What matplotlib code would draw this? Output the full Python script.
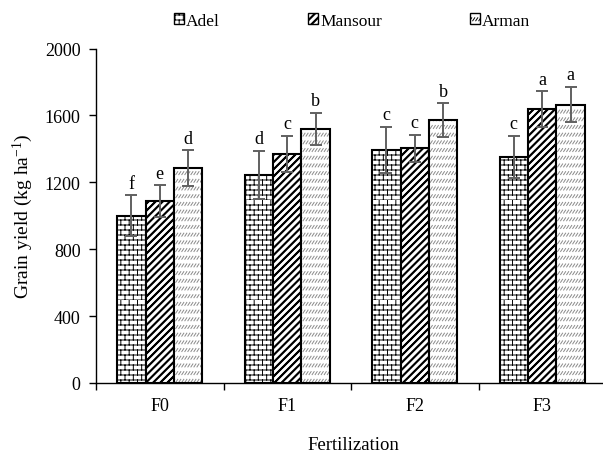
import warnings
import numpy as np
import matplotlib
matplotlib.use('Agg')
import matplotlib.pyplot as plt
from matplotlib import hatch as mhatch
from matplotlib.path import Path
from matplotlib.patches import Patch

warnings.filterwarnings('ignore')

fert = ['F0', 'F1', 'F2', 'F3']
cultivars = ['Adel', 'Mansour', 'Arman']

adel = [1000, 1244, 1393, 1351]
mansour = [1088, 1369, 1403, 1638]
arman = [1285, 1519, 1572, 1664]

adel_err = [122, 145, 138, 126]
mansour_err = [96, 108, 80, 108]
arman_err = [106, 97, 100, 106]

adel_let = ['f', 'd', 'c', 'c']
mansour_let = ['e', 'c', 'c', 'a']
arman_let = ['d', 'b', 'b', 'a']

yticks = [0, 400, 800, 1200, 1600, 2000]


# custom hatches (brick, thick slash, short grey dashes)
class BrickHatch(mhatch.HatchPatternBase):
    def __init__(self, hatch, density):
        self.rows = 20 if 'B' in hatch else 0
        self.cols = 12
        self.num_vertices = self.rows * (2 + 2 * self.cols)

    def set_vertices_and_codes(self, vertices, codes):
        i = 0
        for r in range(self.rows):
            y0 = r / self.rows
            y1 = (r + 1) / self.rows
            vertices[i] = (0, y0)
            vertices[i + 1] = (1, y0)
            codes[i] = Path.MOVETO
            codes[i + 1] = Path.LINETO
            i += 2
            off = 0 if r % 2 == 0 else 0.5 / self.cols
            for c in range(self.cols):
                x = c / self.cols + off
                vertices[i] = (x, y0)
                vertices[i + 1] = (x, y1)
                codes[i] = Path.MOVETO
                codes[i + 1] = Path.LINETO
                i += 2


class ThickSlash(mhatch.HatchPatternBase):
    def __init__(self, hatch, density):
        self.n = 14 if 'M' in hatch else 0
        self.offsets = [-0.008, 0, 0.008]
        self.num_vertices = (2 * self.n + 1) * len(self.offsets) * 2 if self.n else 0

    def set_vertices_and_codes(self, vertices, codes):
        i = 0
        for k in range(-self.n, self.n + 1):
            s = k / self.n
            for d in self.offsets:
                vertices[i] = (s + d, 0)
                vertices[i + 1] = (s + d + 1, 1)
                codes[i] = Path.MOVETO
                codes[i + 1] = Path.LINETO
                i += 2


class DashHatch(mhatch.HatchPatternBase):
    def __init__(self, hatch, density):
        self.rows = 13 if 'D' in hatch else 0
        self.cols = 33
        self.num_vertices = self.rows * self.cols * 2

    def set_vertices_and_codes(self, vertices, codes):
        i = 0
        for r in range(self.rows):
            y0 = (r + 0.3) / self.rows
            for c in range(self.cols):
                x0 = c / self.cols
                vertices[i] = (x0, y0)
                vertices[i + 1] = (x0 + 0.02, y0 + 0.03)
                codes[i] = Path.MOVETO
                codes[i + 1] = Path.LINETO
                i += 2


mhatch._hatch_types.extend([BrickHatch, ThickSlash, DashHatch])

plt.rcParams['font.family'] = ['Liberation Serif', 'DejaVu Serif']
plt.rcParams['mathtext.default'] = 'regular'
plt.rcParams['hatch.linewidth'] = 0.7

fig = plt.figure(figsize=(6.03, 4.56), dpi=100)
ax = fig.add_axes([96 / 603, 72 / 456, 1 - 96 / 603, 334.5 / 456])

x = np.arange(len(fert))
w = 0.2235

ax.bar(x - w, adel, w, color='white', edgecolor='black', linewidth=1.5, hatch='B', zorder=2)
ax.bar(x, mansour, w, color='white', edgecolor='black', linewidth=1.5, hatch='M', zorder=2)
ax.bar(x + w, arman, w, color='white', edgecolor='#8a8a8a', linewidth=0, hatch='D', zorder=2)
ax.bar(x + w, arman, w, fill=False, edgecolor='black', linewidth=1.5, zorder=2)

groups = [(x - w, adel, adel_err, adel_let),
          (x, mansour, mansour_err, mansour_let),
          (x + w, arman, arman_err, arman_let)]
for xs, vals, errs, lets in groups:
    ax.errorbar(xs, vals, yerr=errs, fmt='none', ecolor='#606060',
                elinewidth=1.4, capsize=4.5, capthick=1.4, zorder=3)
    for xi, v, e, l in zip(xs, vals, errs, lets):
        ax.annotate(l, (xi, v + e), xytext=(0, 2.5), textcoords='offset points',
                    ha='center', va='bottom', fontsize=13)

ax.set_ylim(0, 2000)
ax.set_xlim(-0.5, 3.5 - 3 / 127.5)
ax.set_yticks(yticks)
ax.set_xticks([-0.5, 0.5, 1.5, 2.5])
ax.set_xticklabels([])
ax.set_xticks(x, minor=True)
ax.set_xticklabels(fert, minor=True)
ax.tick_params(axis='x', which='major', direction='out', length=5, width=1)
ax.tick_params(axis='x', which='minor', length=0, pad=10, labelsize=13)
ax.tick_params(axis='y', direction='out', length=5, width=1, labelsize=13, pad=6)
for sp in ['top', 'right']:
    ax.spines[sp].set_visible(False)
for sp in ['left', 'bottom']:
    ax.spines[sp].set_linewidth(1)

ax.set_ylabel('Grain yield (kg ha$^{-1}$)', fontsize=14, labelpad=7)
fig.text(353 / 603, 1 - 446 / 456, 'Fertilization', ha='center', va='center', fontsize=13.5)

handles = [Patch(facecolor='white', edgecolor='black', hatch='B'),
           Patch(facecolor='white', edgecolor='black', hatch='M'),
           Patch(facecolor='white', edgecolor='black', hatch='D')]
fig.legend(handles, cultivars, loc='center', bbox_to_anchor=(352 / 603, 1 - 22 / 456),
           ncol=3, frameon=False, fontsize=12.5, handlelength=0.6, handleheight=0.6,
           handletextpad=0.12, columnspacing=5.05, borderaxespad=0, borderpad=0)

fig.savefig('out.png', dpi=100)
